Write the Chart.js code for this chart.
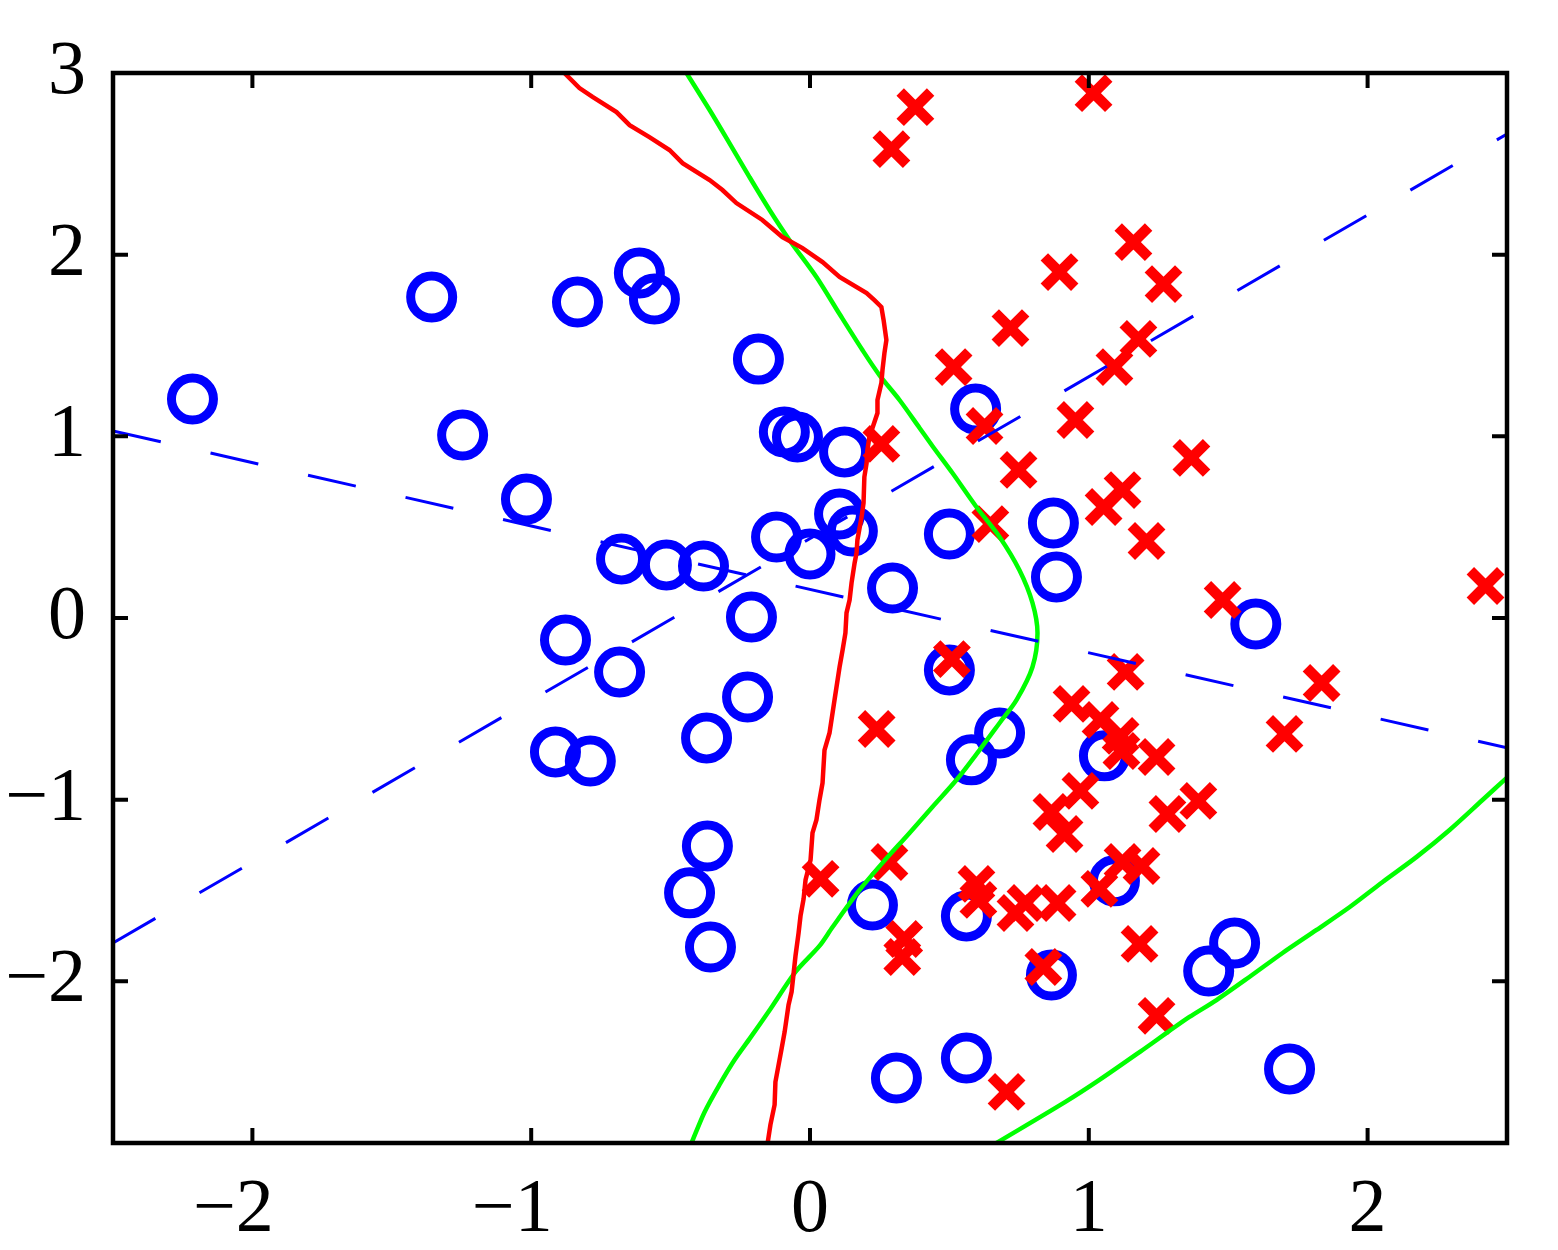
<!DOCTYPE html>
<html>
<head>
<meta charset="utf-8">
<script src="https://cdn.jsdelivr.net/npm/chart.js"></script>
<style>
  html, body { margin: 0; padding: 0; background: #ffffff; }
  #wrap { width: 1558px; height: 1250px; }
</style>
</head>
<body>
<div id="wrap"><canvas id="c" width="1558" height="1250" style="width:1558px;height:1250px"></canvas></div>
<script>
// ---- axis ticks ----
const xTickValues = [-2, -1, 0, 1, 2];
const xTickLabels = ['\u22122', '\u22121', '0', '1', '2'];
const yTickValues = [-2, -1, 0, 1, 2, 3];
const yTickLabels = ['\u22122', '\u22121', '0', '1', '2', '3'];

// ---- class 1 (blue circles) ----
const circleX = [-2.215, -1.357, -0.834, -0.612, -0.558, -0.185, -1.246, -1.017, -0.676, -0.515,
  -0.382, -0.877, -0.683, -0.210, -0.224, -0.371, -0.913, -0.788, -0.368, -0.432,
  -0.357, -0.092, -0.045, 0.124, -0.120, 0.000, 0.106, 0.152, 0.296, 0.500,
  0.594, 0.500, 0.873, 0.884, 0.680, 0.579, 1.056, 1.599, 0.224, 0.561,
  1.092, 0.866, 1.430, 1.523, 0.310, 0.561, 1.720];
const circleY = [1.205, 1.767, 1.739, 1.899, 1.756, 1.425, 1.007, 0.655, 0.325, 0.292,
  0.286, -0.121, -0.297, 0.005, -0.435, -0.660, -0.737, -0.787, -1.255, -1.513,
  -1.811, 1.024, 0.996, 0.914, 0.446, 0.352, 0.572, 0.479, 0.165, 0.462,
  1.150, -0.286, 0.523, 0.226, -0.633, -0.781, -0.759, -0.033, -1.580, -1.640,
  -1.447, -1.965, -1.943, -1.789, -2.532, -2.422, -2.482];

// ---- class 2 (red crosses) ----
const crossX = [0.292, 0.378, 1.017, 1.160, 0.895, 1.268, 0.719, 1.178, 0.515, 1.092,
  0.952, 0.626, 0.256, 1.368, 0.748, 1.121, 1.053, 0.647, 1.207, 2.423,
  1.480, 0.509, 1.132, 1.835, 0.239, 0.938, 1.042, 1.114, 1.117, 1.243,
  1.702, 0.970, 0.866, 0.913, 1.282, 1.393, 0.038, 0.285, 0.597, 0.604,
  0.737, 0.773, 0.888, 1.038, 1.121, 1.189, 0.338, 0.331, 0.837, 1.182,
  1.243, 0.705];
const crossY = [2.581, 2.812, 2.889, 2.069, 1.904, 1.838, 1.596, 1.536, 1.381, 1.381,
  1.090, 1.057, 0.958, 0.881, 0.815, 0.704, 0.611, 0.517, 0.424, 0.176,
  0.099, -0.226, -0.297, -0.358, -0.611, -0.473, -0.561, -0.649, -0.732, -0.765,
  -0.638, -0.952, -1.068, -1.189, -1.079, -1.007, -1.436, -1.343, -1.464, -1.552,
  -1.624, -1.569, -1.569, -1.491, -1.343, -1.365, -1.767, -1.866, -1.921, -1.794,
  -2.190, -2.609];

// ---- red boundary ----
const redX = [-0.881, -0.827, -0.780, -0.694, -0.647, -0.576, -0.504, -0.457, -0.360, -0.314,
  -0.264, -0.171, -0.099, -0.027, 0.045, 0.106, 0.203, 0.231, 0.256, 0.264,
  0.274, 0.267, 0.260, 0.256, 0.242, 0.242, 0.224, 0.213, 0.206, 0.203,
  0.195, 0.192, 0.185, 0.170, 0.167, 0.160, 0.149, 0.142, 0.131, 0.127,
  0.117, 0.106, 0.088, 0.070, 0.052, 0.045, 0.034, 0.023, 0.009, 0.002,
  -0.016, -0.023, -0.034, -0.041, -0.052, -0.066, -0.077, -0.091, -0.102, -0.124,
  -0.127, -0.142, -0.152];
const redY = [3.000, 2.917, 2.868, 2.785, 2.713, 2.647, 2.576, 2.504, 2.411, 2.356,
  2.284, 2.191, 2.097, 2.036, 1.959, 1.877, 1.789, 1.750, 1.712, 1.640,
  1.530, 1.459, 1.365, 1.293, 1.200, 1.128, 1.046, 0.996, 0.925, 0.853,
  0.776, 0.633, 0.556, 0.429, 0.358, 0.303, 0.193, 0.099, 0.028, -0.083,
  -0.176, -0.270, -0.451, -0.633, -0.727, -0.908, -1.002, -1.112, -1.183, -1.332,
  -1.442, -1.547, -1.640, -1.734, -1.860, -2.058, -2.130, -2.279, -2.372, -2.554,
  -2.680, -2.790, -2.890];

// ---- green boundary (main branch) ----
const green1X = [-0.443, -0.360, -0.289, -0.217, -0.145, -0.074, 0.023, 0.106, 0.188, 0.249,
  0.321, 0.393, 0.439, 0.511, 0.597, 0.680, 0.751, 0.798, 0.816, 0.798,
  0.741, 0.680, 0.608, 0.525, 0.439, 0.357, 0.260, 0.178, 0.081, 0.034,
  -0.052, -0.142, -0.217, -0.271, -0.325, -0.378, -0.425];
const green1Y = [3.000, 2.796, 2.614, 2.427, 2.246, 2.081, 1.877, 1.673, 1.475, 1.337,
  1.200, 1.046, 0.947, 0.798, 0.611, 0.446, 0.264, 0.083, -0.083, -0.270,
  -0.451, -0.578, -0.727, -0.892, -1.040, -1.183, -1.348, -1.497, -1.701, -1.805,
  -1.948, -2.152, -2.317, -2.433, -2.570, -2.719, -2.890];

// ---- green boundary (lower-right branch) ----
const green2X = [0.669, 0.916, 1.038, 1.193, 1.279, 1.361, 1.458, 1.576, 1.695, 1.817,
  1.936, 2.054, 2.176, 2.294, 2.412, 2.498];
const green2Y = [-2.890, -2.664, -2.543, -2.378, -2.284, -2.196, -2.103, -1.976, -1.844, -1.717,
  -1.591, -1.453, -1.315, -1.167, -1.002, -0.881];

// ---- dashed blue lines ----
const dashAX = [-2.5, 2.5];
const dashAY = [-1.789, 2.664];
const dashBX = [-2.5, 2.5];
const dashBY = [1.030, -0.715];

const FONT = '"Liberation Serif", "Times New Roman", Times, serif';
const pts = (xs, ys) => xs.map((x, i) => ({ x: x, y: ys[i] }));

const framePlugin = {
  id: 'frame',
  afterDatasetsDraw(chart) {
    const ctx = chart.ctx;
    const a = chart.chartArea;
    const xs = chart.scales.x, ys = chart.scales.y;
    const L = 15;
    ctx.save();
    ctx.strokeStyle = '#000000';
    ctx.lineWidth = 4;
    ctx.lineCap = 'butt';
    ctx.beginPath();
    xTickValues.forEach(v => {
      const p = xs.getPixelForValue(v);
      ctx.moveTo(p, a.bottom); ctx.lineTo(p, a.bottom - L);
      ctx.moveTo(p, a.top); ctx.lineTo(p, a.top + L);
    });
    yTickValues.forEach(v => {
      const p = ys.getPixelForValue(v);
      ctx.moveTo(a.left, p); ctx.lineTo(a.left + L, p);
      ctx.moveTo(a.right, p); ctx.lineTo(a.right - L, p);
    });
    ctx.stroke();
    ctx.lineWidth = 4.5;
    ctx.lineJoin = 'miter';
    ctx.strokeRect(a.left, a.top, a.right - a.left, a.bottom - a.top);
    ctx.restore();
  }
};

new Chart(document.getElementById('c'), {
  type: 'scatter',
  data: {
    datasets: [
      { label: 'class 1', data: pts(circleX, circleY), showLine: false, order: 6,
        pointStyle: 'circle', pointRadius: 21, pointBorderWidth: 9,
        pointBorderColor: '#0000ff', pointBackgroundColor: 'rgba(0,0,0,0)',
        borderColor: '#0000ff', backgroundColor: 'rgba(0,0,0,0)' },
      { label: 'class 2', data: pts(crossX, crossY), showLine: false, order: 5,
        pointStyle: 'crossRot', pointRadius: 21.5, pointBorderWidth: 10.5,
        pointBorderColor: '#ff0000', pointBackgroundColor: '#ff0000',
        borderColor: '#ff0000', backgroundColor: '#ff0000' },
      { label: 'green 1', data: pts(green1X, green1Y), showLine: true, order: 4,
        pointRadius: 0, borderColor: '#00ff00', borderWidth: 4.5, tension: 0.3, fill: false },
      { label: 'green 2', data: pts(green2X, green2Y), showLine: true, order: 4,
        pointRadius: 0, borderColor: '#00ff00', borderWidth: 4.5, tension: 0.3, fill: false },
      { label: 'red', data: pts(redX, redY), showLine: true, order: 3,
        pointRadius: 0, borderColor: '#ff0000', borderWidth: 4.5, tension: 0, fill: false },
      { label: 'dash A', data: pts(dashAX, dashAY), showLine: true, order: 1,
        pointRadius: 0, borderColor: '#0000ff', borderWidth: 3, borderDash: [49, 51], fill: false },
      { label: 'dash B', data: pts(dashBX, dashBY), showLine: true, order: 1,
        pointRadius: 0, borderColor: '#0000ff', borderWidth: 3, borderDash: [49, 51], fill: false }
    ]
  },
  options: {
    responsive: false,
    animation: false,
    devicePixelRatio: 1,
    events: [],
    layout: { padding: { left: 0, right: 51, top: 73, bottom: 0 } },
    plugins: { legend: { display: false }, tooltip: { enabled: false } },
    scales: {
      x: {
        type: 'linear', min: -2.5, max: 2.5,
        grid: { display: false, drawTicks: false, tickLength: 0 }, border: { display: false },
        afterBuildTicks: s => { s.ticks = xTickValues.map(v => ({ value: v })); },
        afterFit: s => { s.height = 107; },
        ticks: {
          autoSkip: false, maxRotation: 0, minRotation: 0, padding: 22, color: '#000000',
          font: { family: FONT, size: 76 },
          callback: v => {
            const t = xTickLabels[xTickValues.indexOf(v)];
            return t.startsWith('\u2212') ? t + '\u2002' : t;
          }
        }
      },
      y: {
        type: 'linear', min: -2.89, max: 3,
        grid: { display: false, drawTicks: false, tickLength: 0 }, border: { display: false },
        afterBuildTicks: s => { s.ticks = yTickValues.map(v => ({ value: v })); },
        afterFit: s => { s.width = 113; },
        ticks: {
          autoSkip: false, padding: 27, color: '#000000',
          font: { family: FONT, size: 76 },
          callback: v => yTickLabels[yTickValues.indexOf(v)]
        }
      }
    }
  },
  plugins: [framePlugin]
});
</script>
</body>
</html>
